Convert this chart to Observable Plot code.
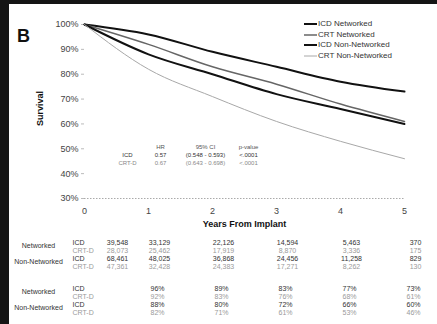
<!DOCTYPE html>
<html><head><meta charset="utf-8">
<script src="https://cdn.jsdelivr.net/npm/d3@7"></script>
<script src="https://cdn.jsdelivr.net/npm/@observablehq/plot@0.6"></script>
<style>
body{margin:0;background:#fff;font-family:"Liberation Sans",Arial,sans-serif;}
#wrap{position:relative;width:437px;height:324px;overflow:hidden;background:#fff;}
.bt{position:absolute;left:0;top:0;width:437px;height:4px;background:#151515;}
.bl{position:absolute;left:0;top:0;width:9px;height:324px;background:#151515;}
#legend{position:absolute;left:304px;top:19px;font-size:8px;color:#333;line-height:10.5px;}
#legend div{display:flex;align-items:center;white-space:nowrap;height:10.5px}
#legend svg{width:13px;height:6px;margin-right:1px}
</style></head><body><div id="wrap"></div>
<script>
// ---- data ----
const years = [0, 1, 2, 3, 4, 5];
const seriesNames = ["ICD Networked", "CRT Networked", "ICD Non-Networked", "CRT Non-Networked"];
const icdNetworked    = [100, 96, 89, 83, 77, 73];
const crtNetworked    = [100, 92, 83, 76, 68, 61];
const icdNonNetworked = [100, 88, 80, 72, 66, 60];
const crtNonNetworked = [100, 82, 71, 61, 53, 46];
const yTicks = [30, 40, 50, 60, 70, 80, 90, 100];

const groups = ["Networked", "Non-Networked"];
const devices = ["ICD", "CRT-D"];
const atRiskNetICD = ["39,548", "33,129", "22,126", "14,594", "5,463", "370"];
const atRiskNetCRT = ["28,073", "25,462", "17,919", "8,870", "3,336", "175"];
const atRiskNonICD = ["68,461", "48,025", "36,868", "24,456", "11,258", "829"];
const atRiskNonCRT = ["47,361", "32,428", "24,383", "17,271", "8,262", "130"];
const pctYears = [1, 2, 3, 4, 5];
const pctNetICD = ["96%", "89%", "83%", "77%", "73%"];
const pctNetCRT = ["92%", "83%", "76%", "68%", "61%"];
const pctNonICD = ["88%", "80%", "72%", "66%", "60%"];
const pctNonCRT = ["82%", "71%", "61%", "53%", "46%"];

const statsHeader = ["HR", "95% CI", "p-value"];
const statsDevices = ["ICD", "CRT-D"];
const statsHR = ["0.57", "0.67"];
const statsCI = ["(0.548 - 0.593)", "(0.643 - 0.698)"];
const statsP = ["<.0001", "<.0001"];

// ---- styles ----
const seriesValues = [icdNetworked, crtNetworked, icdNonNetworked, crtNonNetworked];
const seriesStroke = ["#111", "#666", "#111", "#a8a8a8"];
const seriesWidth = [2, 1.5, 2, 1];

const lineMarks = seriesValues.map((vals, k) =>
  Plot.line(years.map((y, i) => ({year: y, pct: vals[i]})), {
    x: "year", y: "pct", stroke: seriesStroke[k], strokeWidth: seriesWidth[k], curve: "monotone-x"
  })
);

// table marks
const dark = "#333", light = "#9a9a9a";
const tableMarks = [];
function rowMarks(xs, vals, dy, color, dx0, dx) {
  const d = xs.map((y, i) => ({year: y, t: vals[i]}));
  tableMarks.push(Plot.text(d.filter(r => r.year === 0), {x: "year", text: "t", frameAnchor: "bottom", dy, dx: dx0, fill: color, fontSize: 7}));
  tableMarks.push(Plot.text(d.filter(r => r.year !== 0), {x: "year", text: "t", frameAnchor: "bottom", dy, dx, fill: color, fontSize: 7}));
}
const t1 = [[atRiskNetICD, dark], [atRiskNetCRT, light], [atRiskNonICD, dark], [atRiskNonCRT, light]];
t1.forEach(([vals, c], i) => rowMarks(years, vals, 46 + i * 8, c, 33, 11));
const t2 = [[pctNetICD, dark], [pctNetCRT, light], [pctNonICD, dark], [pctNonCRT, light]];
t2.forEach(([vals, c], i) => rowMarks(pctYears, vals, 92 + i * 8, c, 0, 9));
// row labels
[46, 92].forEach(base => {
  groups.forEach((g, gi) => {
    tableMarks.push(Plot.text([g], {frameAnchor: "bottom-left", textAnchor: "middle", dx: -46, dy: base + gi * 16 + 3, fill: dark, fontSize: 7}));
    devices.forEach((dv, di) => {
      tableMarks.push(Plot.text([dv], {frameAnchor: "bottom-left", dx: -12, dy: base + gi * 16 + di * 8, textAnchor: "start", fill: di ? light : dark, fontSize: 7}));
    });
  });
});

// stats block
const statsMarks = [];
const statCols = [76, 121, 164];
statsHeader.forEach((h, i) => statsMarks.push(Plot.text([h], {frameAnchor: "top-left", textAnchor: "middle", dx: statCols[i], dy: 120, fill: "#555", fontSize: 6})));
statsDevices.forEach((dv, r) => {
  const c = r ? "#888" : "#333";
  const dy = 128 + r * 8.5;
  const o = {frameAnchor: "top-left", textAnchor: "middle", dy, fill: c, fontSize: 6};
  statsMarks.push(Plot.text([dv], {...o, dx: 43}));
  statsMarks.push(Plot.text([statsHR[r]], {...o, dx: statCols[0]}));
  statsMarks.push(Plot.text([statsCI[r]], {...o, dx: statCols[1]}));
  statsMarks.push(Plot.text([statsP[r]], {...o, dx: statCols[2]}));
});

const chart = Plot.plot({
  width: 437, height: 324,
  marginTop: 24, marginBottom: 126, marginLeft: 84, marginRight: 33,
  style: {fontFamily: "Liberation Sans, Arial, sans-serif", fontSize: "9px", color: "#444", background: "transparent"},
  x: {domain: [0, 5]},
  y: {domain: [30, 100]},
  marks: [
    Plot.axisY({ticks: yTicks, tickFormat: d => d + "%", tickSize: 3, tickPadding: 3, stroke: "#bbb", fontSize: 9, fill: "#444", label: null}),
    Plot.axisX({ticks: years, tickFormat: d => String(d), tickSize: 0, tickPadding: 9, fontSize: 9, fill: "#444", label: null}),
    Plot.ruleY([30], {stroke: "#aaa", strokeDasharray: "1.5,1.5", x1: 0, x2: 5}),
    ...lineMarks,
    Plot.text(["Years From Implant"], {frameAnchor: "bottom", dy: 28, fontWeight: "bold", fontSize: 9, fill: "#111"}),
    Plot.text(["Survival"], {frameAnchor: "left", textAnchor: "middle", dx: -44, dy: -3, rotate: -90, fontWeight: "bold", fontSize: 9, fill: "#111"}),
    Plot.text(["B"], {frameAnchor: "top-left", textAnchor: "middle", dx: -61, dy: 5, fontWeight: "bold", fontSize: 18, fill: "#111"}),
    ...statsMarks,
    ...tableMarks
  ]
});

const wrap = document.getElementById("wrap");
wrap.appendChild(chart);
const leg = document.createElement("div");
leg.id = "legend";
seriesNames.forEach((n, k) => {
  const row = document.createElement("div");
  row.innerHTML = `<svg viewBox="0 0 13 6"><line x1="0" y1="3" x2="13" y2="3" stroke="${seriesStroke[k]}" stroke-width="${seriesWidth[k]}"/></svg><span>${n}</span>`;
  leg.appendChild(row);
});
wrap.appendChild(leg);
const bt = document.createElement("div"); bt.className = "bt"; wrap.appendChild(bt);
const bl = document.createElement("div"); bl.className = "bl"; wrap.appendChild(bl);
</script></body></html>
